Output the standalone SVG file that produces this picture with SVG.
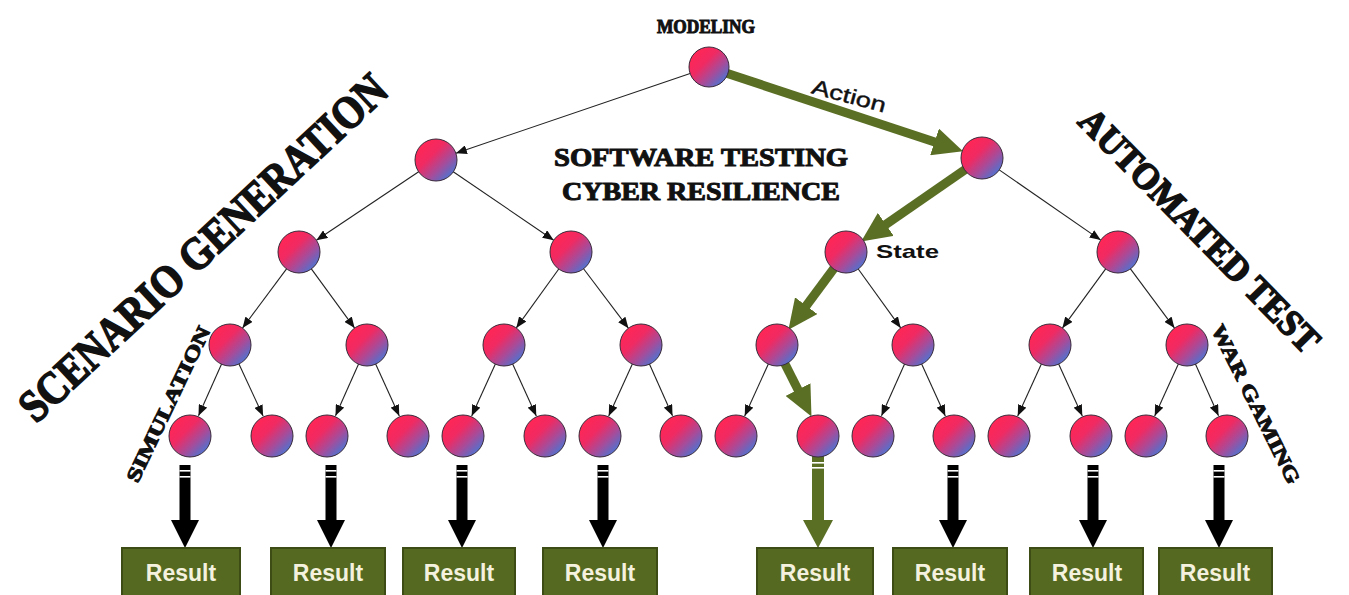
<svg xmlns="http://www.w3.org/2000/svg" xmlns:xlink="http://www.w3.org/1999/xlink" width="1349" height="595" viewBox="0 0 1349 595">
<defs>
<linearGradient id="ball" x1="0.15" y1="0.15" x2="0.85" y2="0.85">
<stop offset="0" stop-color="#ff2656"/>
<stop offset="0.35" stop-color="#f02a62"/>
<stop offset="0.7" stop-color="#a64c9a"/>
<stop offset="1" stop-color="#5570cc"/>
</linearGradient>
<marker id="thin" markerUnits="userSpaceOnUse" markerWidth="11" markerHeight="9" refX="11" refY="4.5" orient="auto">
<path d="M0,0 L11,4.5 L0,9 Z" fill="#111"/>
</marker>
<marker id="big" markerUnits="userSpaceOnUse" markerWidth="30" markerHeight="28" refX="1" refY="14" orient="auto">
<path d="M0,0 L30,14 L0,28 Z" fill="#5a6e24"/>
</marker>
<g id="blk">
<rect x="-5.5" y="0" width="11" height="57" fill="#000"/>
<rect x="-5.5" y="5" width="11" height="1.6" fill="#fff"/>
<rect x="-5.5" y="11" width="11" height="1.6" fill="#fff"/>
<polygon points="-14,55 14,55 0,83" fill="#000"/>
</g>
</defs>
<style>
.n{fill:url(#ball);stroke:#3a2a3a;stroke-width:1}
.c{stroke:#222;stroke-width:1.1;fill:none;marker-end:url(#thin)}
.g{stroke:#5a6e24;stroke-width:9;fill:none;marker-end:url(#big)}
.box{fill:#556a20;stroke:#3c4c14;stroke-width:2}
.res{font-family:"Liberation Sans",Arial,sans-serif;font-weight:bold;font-size:23px;fill:#f4f2de;text-anchor:middle}
.st{font-family:"Liberation Serif","Times New Roman",serif;font-weight:bold;fill:#111;stroke:#111;stroke-width:1;text-anchor:middle}
.stb{stroke-width:1.6}
.lbl{font-family:"Liberation Sans",Arial,sans-serif;fill:#111}
</style>
<rect width="1349" height="595" fill="#fff"/>

<g id="labels">
<text class="st" x="706" y="33" font-size="19" textLength="98" lengthAdjust="spacingAndGlyphs">MODELING</text>
<text class="st" x="701" y="166" font-size="25" textLength="294" lengthAdjust="spacingAndGlyphs">SOFTWARE TESTING</text>
<text class="st" x="701" y="200" font-size="25" textLength="278" lengthAdjust="spacingAndGlyphs">CYBER RESILIENCE</text>
<text class="st stb" transform="translate(203,248) rotate(-43)" x="0" y="15" font-size="46" textLength="485" lengthAdjust="spacingAndGlyphs">SCENARIO GENERATION</text>
<text class="st stb" transform="translate(1200,230) rotate(45.5)" x="0" y="13" font-size="37" textLength="326" lengthAdjust="spacingAndGlyphs">AUTOMATED TEST</text>
<text class="st" transform="translate(168,404) rotate(-64.5)" x="0" y="7" font-size="20" textLength="170" lengthAdjust="spacingAndGlyphs">SIMULATION</text>
<text class="st" transform="translate(1256,404) rotate(63.5)" x="0" y="7" font-size="20" textLength="175" lengthAdjust="spacingAndGlyphs">WAR GAMING</text>
<text class="lbl" transform="translate(849,96) rotate(15)" x="0" y="7" font-size="21" text-anchor="middle" stroke="#111" stroke-width="0.4" textLength="76" lengthAdjust="spacingAndGlyphs">Action</text>
<text class="lbl" x="876" y="258" font-size="19" font-weight="bold" textLength="63" lengthAdjust="spacingAndGlyphs">State</text>
</g>

<g id="connectors">
<line class="c" x1="690.1" y1="73.5" x2="455.9" y2="153.2"/>
<line class="c" x1="419.4" y1="171.2" x2="316.4" y2="240.3"/>
<line class="c" x1="452.5" y1="171.3" x2="553.7" y2="240.2"/>
<line class="c" x1="998.5" y1="169.4" x2="1100.7" y2="240.1"/>
<line class="c" x1="287.1" y1="268.1" x2="242.5" y2="328.1"/>
<line class="c" x1="310.8" y1="268.1" x2="354.6" y2="328.1"/>
<line class="c" x1="559.3" y1="268.2" x2="516.3" y2="327.9"/>
<line class="c" x1="583" y1="268" x2="628.4" y2="328.2"/>
<line class="c" x1="857.7" y1="268.2" x2="900.7" y2="327.9"/>
<line class="c" x1="1106.2" y1="268.1" x2="1062.4" y2="328.1"/>
<line class="c" x1="1129.9" y1="268.1" x2="1174.5" y2="328.1"/>
<line class="c" x1="221.9" y1="363.3" x2="198.5" y2="415.8"/>
<line class="c" x1="238.5" y1="363.1" x2="263.1" y2="416"/>
<line class="c" x1="358.9" y1="363.3" x2="335.5" y2="415.8"/>
<line class="c" x1="375.3" y1="363.2" x2="399.3" y2="415.9"/>
<line class="c" x1="495.7" y1="363.2" x2="471.7" y2="415.9"/>
<line class="c" x1="512.3" y1="363.2" x2="536.3" y2="415.9"/>
<line class="c" x1="632.7" y1="363.2" x2="608.7" y2="415.9"/>
<line class="c" x1="649.1" y1="363.3" x2="672.5" y2="415.8"/>
<line class="c" x1="768.7" y1="363.2" x2="744.7" y2="415.9"/>
<line class="c" x1="904.9" y1="363.3" x2="881.5" y2="415.8"/>
<line class="c" x1="921.3" y1="363.2" x2="945.3" y2="415.9"/>
<line class="c" x1="1041.7" y1="363.2" x2="1017.7" y2="415.9"/>
<line class="c" x1="1058.3" y1="363.2" x2="1082.3" y2="415.9"/>
<line class="c" x1="1178.7" y1="363.2" x2="1154.7" y2="415.9"/>
<line class="c" x1="1195.1" y1="363.3" x2="1218.5" y2="415.8"/>
<line class="g" x1="726" y1="73" x2="935.5" y2="142.2"/>
<line class="g" x1="966" y1="169" x2="885" y2="225"/>
<line class="g" x1="835" y1="267" x2="805.7" y2="306.5"/>
<line class="g" x1="784" y1="362" x2="798.4" y2="390.5"/>
<use xlink:href="#blk" x="185" y="465"/>
<use xlink:href="#blk" x="331" y="465"/>
<use xlink:href="#blk" x="462" y="465"/>
<use xlink:href="#blk" x="603" y="465"/>
<use xlink:href="#blk" x="953" y="465"/>
<use xlink:href="#blk" x="1093" y="465"/>
<use xlink:href="#blk" x="1219" y="465"/>
<g id="greenDown">
<rect x="812" y="456" width="12" height="67" fill="#5a6e24"/>
<rect x="812" y="462" width="12" height="1.6" fill="#fff"/>
<rect x="812" y="467" width="12" height="1.6" fill="#fff"/>
<polygon points="803,520 833,520 818,548" fill="#5a6e24"/>
</g>
</g>

<g id="root"><circle class="n" cx="709" cy="67" r="20"/></g>
<g id="n1a"><circle class="n" cx="436" cy="160" r="21"/></g>
<g id="n1b"><circle class="n" cx="982" cy="158" r="21"/></g>
<g id="n2a"><circle class="n" cx="299" cy="252" r="21"/></g>
<g id="n2b"><circle class="n" cx="571" cy="252" r="21"/></g>
<g id="n2c"><circle class="n" cx="846" cy="252" r="21"/></g>
<g id="n2d"><circle class="n" cx="1118" cy="252" r="21"/></g>
<g id="n3a"><circle class="n" cx="230" cy="345" r="21"/></g>
<g id="n3b"><circle class="n" cx="367" cy="345" r="21"/></g>
<g id="n3c"><circle class="n" cx="504" cy="345" r="21"/></g>
<g id="n3d"><circle class="n" cx="641" cy="345" r="21"/></g>
<g id="n3e"><circle class="n" cx="777" cy="345" r="21"/></g>
<g id="n3f"><circle class="n" cx="913" cy="345" r="21"/></g>
<g id="n3g"><circle class="n" cx="1050" cy="345" r="21"/></g>
<g id="n3h"><circle class="n" cx="1187" cy="345" r="21"/></g>
<g id="n4a"><circle class="n" cx="190" cy="436" r="21"/></g>
<g id="n4b"><circle class="n" cx="272" cy="436" r="21"/></g>
<g id="n4c"><circle class="n" cx="327" cy="436" r="21"/></g>
<g id="n4d"><circle class="n" cx="408" cy="436" r="21"/></g>
<g id="n4e"><circle class="n" cx="463" cy="436" r="21"/></g>
<g id="n4f"><circle class="n" cx="545" cy="436" r="21"/></g>
<g id="n4g"><circle class="n" cx="600" cy="436" r="21"/></g>
<g id="n4h"><circle class="n" cx="681" cy="436" r="21"/></g>
<g id="n4i"><circle class="n" cx="736" cy="436" r="21"/></g>
<g id="n4j"><circle class="n" cx="818" cy="436" r="21"/></g>
<g id="n4k"><circle class="n" cx="873" cy="436" r="21"/></g>
<g id="n4l"><circle class="n" cx="954" cy="436" r="21"/></g>
<g id="n4m"><circle class="n" cx="1009" cy="436" r="21"/></g>
<g id="n4n"><circle class="n" cx="1091" cy="436" r="21"/></g>
<g id="n4o"><circle class="n" cx="1146" cy="436" r="21"/></g>
<g id="n4p"><circle class="n" cx="1227" cy="436" r="21"/></g>

<g id="r1"><rect class="box" x="122" y="548" width="118" height="52"/><text class="res" x="181" y="581">Result</text></g>
<g id="r2"><rect class="box" x="271" y="548" width="114" height="52"/><text class="res" x="328" y="581">Result</text></g>
<g id="r3"><rect class="box" x="403" y="548" width="112" height="52"/><text class="res" x="459" y="581">Result</text></g>
<g id="r4"><rect class="box" x="543" y="548" width="114" height="52"/><text class="res" x="600" y="581">Result</text></g>
<g id="r5"><rect class="box" x="757" y="548" width="116" height="52"/><text class="res" x="815" y="581">Result</text></g>
<g id="r6"><rect class="box" x="893" y="548" width="114" height="52"/><text class="res" x="950" y="581">Result</text></g>
<g id="r7"><rect class="box" x="1030" y="548" width="113" height="52"/><text class="res" x="1087" y="581">Result</text></g>
<g id="r8"><rect class="box" x="1159" y="548" width="113" height="52"/><text class="res" x="1215" y="581">Result</text></g>
</svg>
